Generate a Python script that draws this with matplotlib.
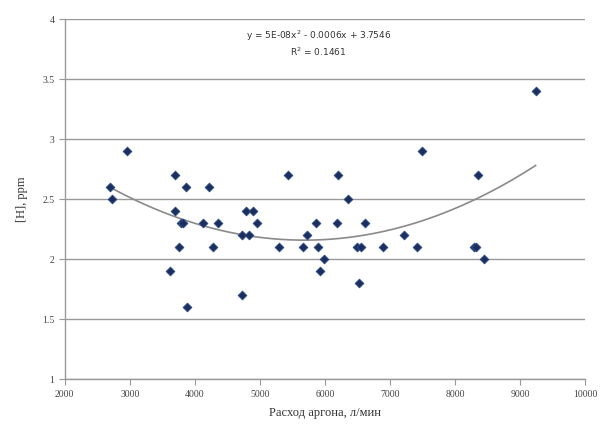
import numpy as np
import matplotlib
matplotlib.use('Agg')
import matplotlib.pyplot as plt

# расход аргона, л/мин
argon_flow = [2700, 2730, 2950,
              3700, 3700, 3780, 3820, 3750, 3620, 3870, 3880,
              4220, 4120, 4350, 4280,
              4730, 4730, 4830, 4790, 4900, 4960,
              5290, 5430, 5670, 5720, 5860, 5900, 5930, 5980,
              6180, 6200, 6350, 6500, 6550, 6520, 6620, 6890,
              7220, 7420, 7500, 8290, 8330, 8360, 8450, 9240]
# содержание водорода, ppm
hydrogen = [2.6, 2.5, 2.9,
            2.7, 2.4, 2.3, 2.3, 2.1, 1.9, 2.6, 1.6,
            2.6, 2.3, 2.3, 2.1,
            1.7, 2.2, 2.2, 2.4, 2.4, 2.3,
            2.1, 2.7, 2.1, 2.2, 2.3, 2.1, 1.9, 2.0,
            2.3, 2.7, 2.5, 2.1, 2.1, 1.8, 2.3, 2.1,
            2.2, 2.1, 2.9, 2.1, 2.1, 2.7, 2.0, 3.4]

x_ticks = [2000, 3000, 4000, 5000, 6000, 7000, 8000, 9000, 10000]
y_ticks = [1, 1.5, 2, 2.5, 3, 3.5, 4]
trend_label = 'y = 5E-08x$^2$ - 0.0006x + 3.7546\nR$^2$ = 0.1461'

plt.rcParams['font.family'] = ['Liberation Serif', 'DejaVu Serif']

fig = plt.figure(figsize=(6, 4.26), dpi=100)
ax = fig.add_axes([0.108, 0.110, 0.867, 0.845])

x = np.array(argon_flow, dtype=float)
y = np.array(hydrogen, dtype=float)

ax.scatter(x, y, marker='D', s=20, color='#1c2e5c', edgecolors='#2a4a8a',
           linewidths=0.6, zorder=3)

# полиномиальный тренд второй степени
coef = np.polyfit(x, y, 2)
xs = np.linspace(x.min(), x.max(), 200)
ax.plot(xs, np.polyval(coef, xs), color='#8a8a8a', lw=1.2, zorder=2)

ax.text(5900, 3.80, trend_label, ha='center', va='center', fontsize=6.5,
        family=['DejaVu Sans'], color='#333333', linespacing=1.3)

ax.set_xlim(2000, 10000)
ax.set_ylim(1, 4)
ax.set_xticks(x_ticks)
ax.set_yticks(y_ticks)
ax.set_xticklabels([str(t) for t in x_ticks])
ax.set_yticklabels(['1', '1.5', '2', '2.5', '3', '3.5', '4'])
ax.tick_params(labelsize=7, colors='#444444', length=4, width=0.8)
ax.tick_params(axis='x', color='#999999')
ax.tick_params(axis='y', color='#999999')

ax.grid(axis='y', color='#999999', lw=1.0)
ax.set_axisbelow(True)
for side in ['top', 'right']:
    ax.spines[side].set_visible(False)
for side in ['left', 'bottom']:
    ax.spines[side].set_color('#999999')
    ax.spines[side].set_linewidth(1.0)

ax.set_xlabel('Расход аргона, л/мин', fontsize=9, color='#333333', labelpad=6)
ax.set_ylabel('[H], ppm', fontsize=9, color='#333333', labelpad=10)

fig.savefig('out.png', dpi=100)
